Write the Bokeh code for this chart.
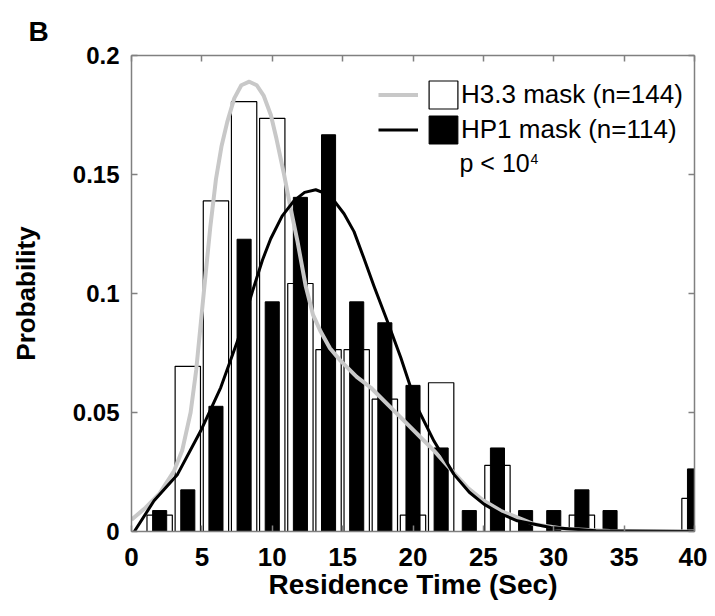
from bokeh.plotting import figure
from bokeh.models import (Range1d, FixedTicker, CustomJSTickFormatter, LinearAxis,
                          Legend, LegendItem, Label, ColumnDataSource)
from bokeh.embed import file_html
from bokeh.resources import INLINE

# ---- data ----
h33_x = [2, 4, 6, 8, 10, 12, 14, 16, 18, 20, 22, 26, 32, 40]
h33_p = [0.0069, 0.0694, 0.1389, 0.1806, 0.1736, 0.1042, 0.0764, 0.0764,
         0.0556, 0.0069, 0.0625, 0.0278, 0.0069, 0.0139]

hp1_x = [2, 4, 6, 8, 10, 12, 14, 16, 18, 20, 22, 24, 26, 28, 30, 32, 34, 40]
hp1_p = [0.0088, 0.0175, 0.0526, 0.1228, 0.0965, 0.1404, 0.1667, 0.0965,
         0.0877, 0.0614, 0.0351, 0.0088, 0.0351, 0.0088, 0.0088, 0.0175,
         0.0088, 0.0263]

h33_fit_x = [0.0, 1.0, 2.0, 3.03, 3.6, 4.2, 4.6, 5.13, 5.6, 6.0, 6.4, 6.8, 7.3,
             7.8, 8.37, 8.9, 9.4, 9.9, 10.3, 10.84, 11.3, 11.79, 12.38, 12.9,
             13.44, 14.1, 14.86, 16.0, 16.99, 18.89, 20.55, 21.49, 22.7, 23.86,
             25.0, 26.23, 28.59, 30.96, 34.0, 40.0]
h33_fit_y = [0.005, 0.010, 0.016, 0.0255, 0.034, 0.050, 0.068, 0.100, 0.128,
             0.148, 0.162, 0.172, 0.182, 0.1875, 0.189, 0.1875, 0.183, 0.175,
             0.165, 0.150, 0.136, 0.122, 0.103, 0.091, 0.084, 0.077, 0.0717,
             0.065, 0.0605, 0.0493, 0.0395, 0.034, 0.026, 0.0185, 0.013,
             0.0087, 0.0031, 0.001, 0.0002, 0.0]

hp1_fit_x = [0.2, 1.6, 3.27, 4.92, 6.34, 7.53, 8.6, 9.3, 9.89, 10.7, 11.55,
             12.3, 13.09, 13.8, 14.39, 15.1, 15.81, 16.5, 17.23, 18.2, 19.13,
             20.31, 21.49, 22.91, 24.0, 25.04, 26.2, 27.41, 29.78, 33.0, 40.0]
hp1_fit_y = [0.0, 0.0129, 0.024, 0.0423, 0.0605, 0.080, 0.101, 0.114, 0.123,
             0.1325, 0.139, 0.1425, 0.1436, 0.142, 0.139, 0.1335, 0.126, 0.115,
             0.103, 0.088, 0.0731, 0.052, 0.038, 0.024, 0.0165, 0.0115, 0.0075,
             0.0045, 0.0017, 0.0003, 0.0]

x_ticks = [0, 5, 10, 15, 20, 25, 30, 35, 40]
y_ticks = [0, 0.05, 0.1, 0.15, 0.2]

FONT = "Liberation Sans"
AXIS_GRAY = "#808080"

p = figure(width=707, height=608, output_backend="svg", toolbar_location=None,
           x_range=Range1d(0, 40), y_range=Range1d(0, 0.2),
           min_border_left=131, min_border_right=13, min_border_top=55,
           min_border_bottom=77, title="B")
p.title.align = "left"
p.title.offset = -103
p.title.text_font = FONT
p.title.text_font_size = "28px"
p.title.text_font_style = "bold"
p.title.text_color = "black"
p.title.standoff = 17
p.grid.visible = False
p.outline_line_color = None
p.background_fill_color = "white"
p.border_fill_color = "white"

white_src = ColumnDataSource(dict(x=h33_x, top=h33_p))
black_src = ColumnDataSource(dict(x=hp1_x, top=hp1_p))

white_bars = p.vbar(x="x", top="top", bottom=0, width=1.8, source=white_src,
                    fill_color="white", line_color="black", line_width=1.2)
black_bars = p.vbar(x="x", top="top", bottom=0, width=1.0, source=black_src,
                    fill_color="black", line_color="black", line_width=1)
gray_line = p.line(h33_fit_x, h33_fit_y, line_color="#c8c8c8", line_width=4,
                   line_join="round")
black_line = p.line(hp1_fit_x, hp1_fit_y, line_color="black", line_width=3,
                    line_join="round")

# axes
for ax in [p.xaxis[0], p.yaxis[0]]:
    ax.major_tick_in = 6
    ax.major_tick_out = 0
    ax.minor_tick_line_color = None
    ax.axis_line_color = AXIS_GRAY
    ax.axis_line_width = 1.5
    ax.major_tick_line_color = AXIS_GRAY
    ax.major_tick_line_width = 1.5
    ax.major_label_text_font = FONT
    ax.major_label_text_font_style = "bold"
    ax.major_label_text_color = "black"
    ax.axis_label_text_font = FONT
    ax.axis_label_text_font_style = "bold"
    ax.axis_label_text_color = "black"

p.xaxis[0].ticker = FixedTicker(ticks=x_ticks)
p.xaxis[0].major_label_text_font_size = "26px"
p.xaxis[0].major_label_standoff = 16
p.xaxis[0].axis_label = "Residence Time (Sec)"
p.xaxis[0].axis_label_text_font_size = "28px"
p.xaxis[0].axis_label_standoff = 0

p.yaxis[0].ticker = FixedTicker(ticks=y_ticks)
p.yaxis[0].formatter = CustomJSTickFormatter(code="return tick.toString();")
p.yaxis[0].major_label_text_font_size = "24px"
p.yaxis[0].major_label_standoff = 12
p.yaxis[0].axis_label = "Probability"
p.yaxis[0].axis_label_text_font_size = "26px"
p.yaxis[0].axis_label_standoff = 29

# mirrored box ticks (top and right), no labels
def box_axis(ticks):
    return LinearAxis(ticker=FixedTicker(ticks=ticks),
                      formatter=CustomJSTickFormatter(code="return '';"),
                      major_label_standoff=0, major_tick_in=6, major_tick_out=0,
                      minor_tick_line_color=None, axis_line_color=AXIS_GRAY,
                      axis_line_width=1.5, major_tick_line_color=AXIS_GRAY,
                      major_tick_line_width=1.5)

p.add_layout(box_axis(x_ticks), "above")
p.add_layout(box_axis(y_ticks), "right")

# legends: line samples, then boxes with labels
leg_lines = Legend(items=[LegendItem(label=" ", renderers=[gray_line]),
                          LegendItem(label=" ", renderers=[black_line])],
                   location=(247, 384), glyph_width=40, glyph_height=35, spacing=-2,
                   padding=0, margin=0, label_width=0, label_standoff=0,
                   label_text_font_size="26px", border_line_color=None,
                   background_fill_alpha=0)
leg_boxes = Legend(items=[LegendItem(label="H3.3 mask (n=144)", renderers=[white_bars]),
                          LegendItem(label="HP1 mask (n=114)", renderers=[black_bars])],
                   location=(294, 384), glyph_width=36, glyph_height=35, spacing=-2,
                   padding=0, margin=0, label_standoff=0,
                   label_text_font=FONT, label_text_font_size="26px",
                   label_text_color="black", border_line_color=None,
                   background_fill_alpha=0)
p.add_layout(leg_lines)
p.add_layout(leg_boxes)

p.add_layout(Label(x=328, y=369, x_units="screen", y_units="screen",
                   text="p < 10", text_font=FONT, text_font_size="25px",
                   text_color="black", text_baseline="alphabetic"))
p.add_layout(Label(x=399, y=373, x_units="screen", y_units="screen",
                   text="4", text_font=FONT, text_font_size="14px",
                   text_color="black", text_baseline="alphabetic"))

open("out.html", "w").write(file_html(p, INLINE))
